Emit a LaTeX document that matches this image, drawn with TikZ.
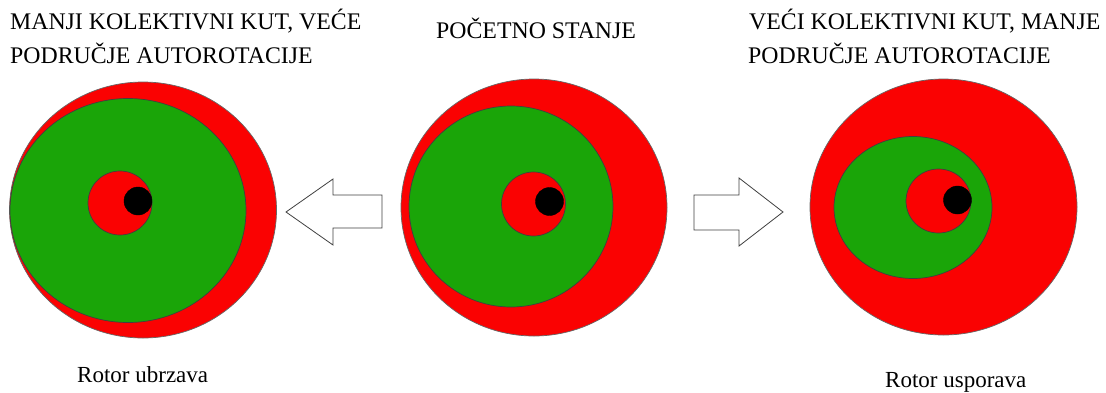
\documentclass[tikz,border=0pt]{standalone}
\usepackage{fontspec}
\setmainfont{Liberation Serif}
\newfontfamily\diagserif{Liberation Serif}
\usetikzlibrary{shapes.geometric}
\definecolor{rred}{RGB}{250,2,2}
\definecolor{rgreen}{RGB}{26,165,8}
\tikzset{
  disc/.style={ellipse, inner sep=0pt, draw=black!75, line width=0.7pt},
  outerdisc/.style={disc, fill=rred, draw=black!60},
  greendisc/.style={disc, fill=rgreen},
  hubdisc/.style={disc, fill=rred},
  dotdisc/.style={circle, inner sep=0pt, fill=black, draw=black, minimum size=28pt},
  title/.style={anchor=base west, inner sep=0pt, font=\diagserif\fontsize{23.8}{27}\selectfont},
  caption/.style={anchor=base west, inner sep=0pt, font=\diagserif\fontsize{23}{27}\selectfont},
  blockarrow/.style={draw=black!75, line width=0.8pt, fill=white, line join=miter}
}
\begin{document}
\begin{tikzpicture}[x=1pt,y=-1pt]
\useasboundingbox (0,0) rectangle (1106,392);
% titles
\node[title] (t1a) at (10,29) {MANJI KOLEKTIVNI KUT, VEĆE};
\node[title] (t1b) at (10,63) {PODRUČJE AUTOROTACIJE};
\node[title] (t2) at (436,38) {POČETNO STANJE};
\node[title] (t3a) at (749,29) {VEĆI KOLEKTIVNI KUT, MANJE};
\node[title] (t3b) at (748,63) {PODRUČJE AUTOROTACIJE};
\node[caption] (c1) at (77,382) {Rotor ubrzava};
\node[caption] (c3) at (885,387) {Rotor usporava};
% left rotor
\node[outerdisc, minimum width=267pt, minimum height=256pt] (lo) at (143,210) {};
\node[greendisc, minimum width=236pt, minimum height=224pt] (lg) at (128,210.5) {};
\node[hubdisc, minimum width=64pt, minimum height=64pt] (lh) at (120,203) {};
\node[dotdisc] (ld) at (138,201) {};
% middle rotor
\node[outerdisc, minimum width=266pt, minimum height=257pt] (mo) at (534,207.5) {};
\node[greendisc, minimum width=204pt, minimum height=201pt] (mg) at (511,206.5) {};
\node[hubdisc, minimum width=64pt, minimum height=64pt] (mh) at (533.5,204) {};
\node[dotdisc] (md) at (549.5,201.5) {};
% right rotor
\node[outerdisc, minimum width=267pt, minimum height=256pt] (ro) at (943.5,207) {};
\node[greendisc, minimum width=158pt, minimum height=142pt] (rg) at (913,207.5) {};
\node[hubdisc, minimum width=65pt, minimum height=64pt] (rh) at (938.5,201) {};
\node[dotdisc] (rd) at (957.5,200) {};
% left block arrow
\coordinate (la1) at (286,212);
\coordinate (la2) at (333,179);
\coordinate (la3) at (333,195);
\coordinate (la4) at (382,195);
\coordinate (la5) at (382,228);
\coordinate (la6) at (333,228);
\coordinate (la7) at (333,245);
\draw[blockarrow] (la1) -- (la2) -- (la3) -- (la4) -- (la5) -- (la6) -- (la7) -- cycle;
% right block arrow
\coordinate (ra1) at (783,212);
\coordinate (ra2) at (739,178);
\coordinate (ra3) at (739,195);
\coordinate (ra4) at (694,195);
\coordinate (ra5) at (694,230);
\coordinate (ra6) at (739,230);
\coordinate (ra7) at (739,246);
\draw[blockarrow] (ra1) -- (ra2) -- (ra3) -- (ra4) -- (ra5) -- (ra6) -- (ra7) -- cycle;
\end{tikzpicture}
\end{document}
